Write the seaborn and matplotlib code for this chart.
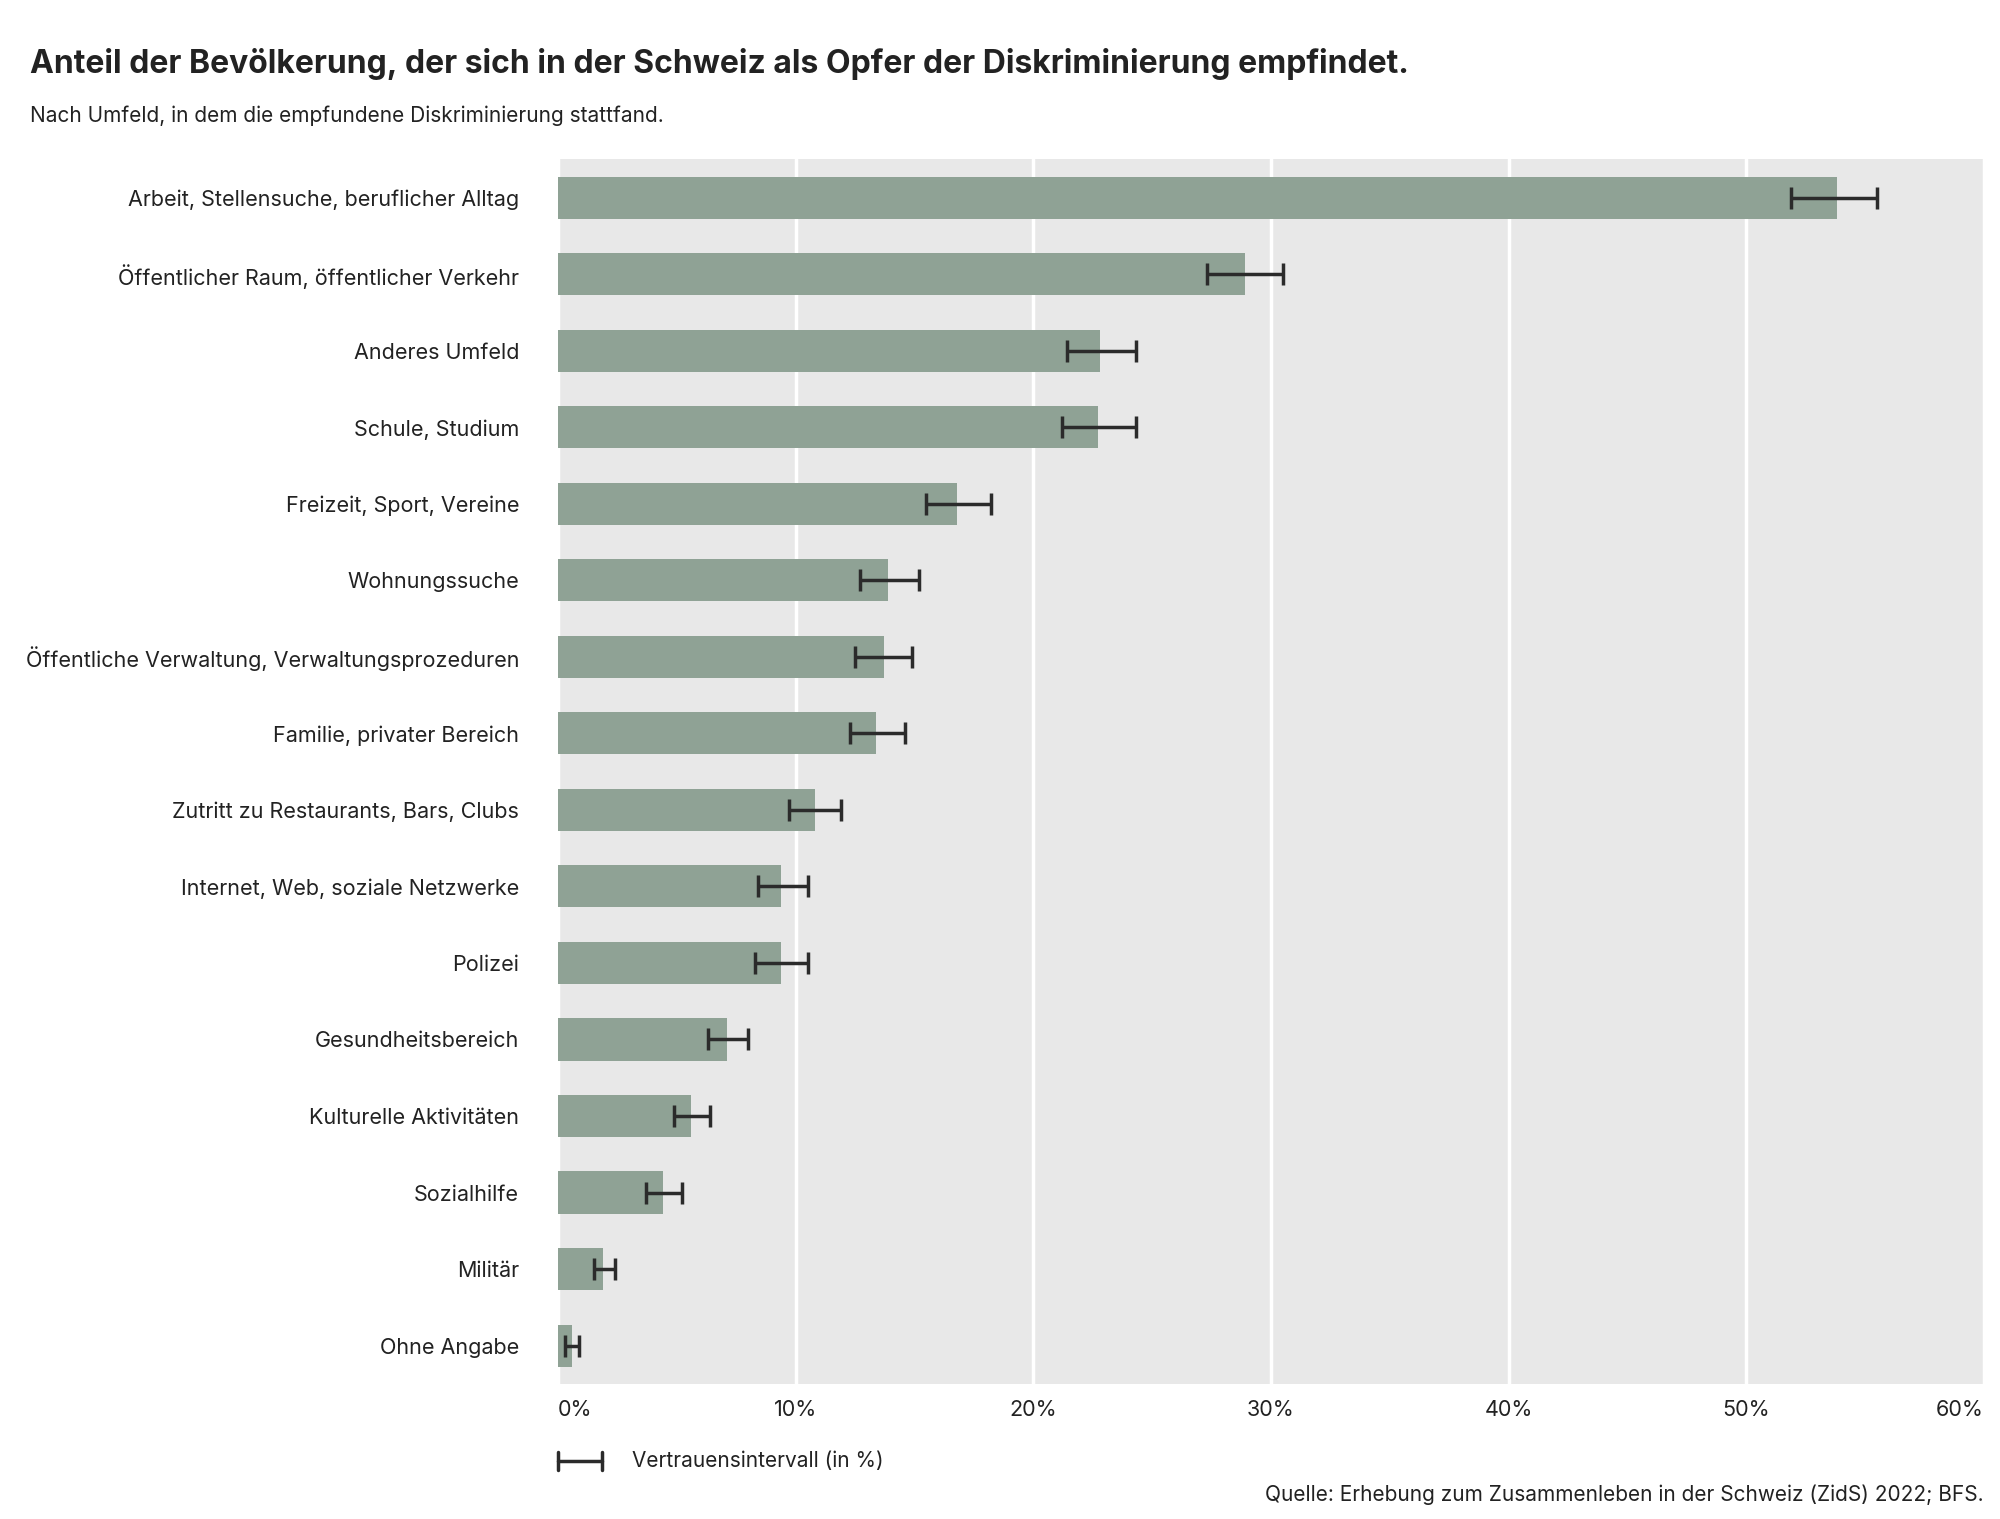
import matplotlib
matplotlib.use("Agg")
import matplotlib.pyplot as plt
import seaborn as sns
import pandas as pd
import numpy as np

categories = [
    "Arbeit, Stellensuche, beruflicher Alltag",
    "Öffentlicher Raum, öffentlicher Verkehr",
    "Anderes Umfeld",
    "Schule, Studium",
    "Freizeit, Sport, Vereine",
    "Wohnungssuche",
    "Öffentliche Verwaltung, Verwaltungsprozeduren",
    "Familie, privater Bereich",
    "Zutritt zu Restaurants, Bars, Clubs",
    "Internet, Web, soziale Netzwerke",
    "Polizei",
    "Gesundheitsbereich",
    "Kulturelle Aktivitäten",
    "Sozialhilfe",
    "Militär",
    "Ohne Angabe",
]
values = [53.8, 28.9, 22.8, 22.7, 16.8, 13.9, 13.7, 13.4, 10.8, 9.4, 9.4, 7.1, 5.6, 4.4, 1.9, 0.6]
ci_low = [51.9, 27.3, 21.4, 21.2, 15.5, 12.7, 12.5, 12.3, 9.7, 8.4, 8.3, 6.3, 4.9, 3.7, 1.5, 0.3]
ci_high = [55.5, 30.5, 24.3, 24.3, 18.2, 15.2, 14.9, 14.6, 11.9, 10.5, 10.5, 8.0, 6.4, 5.2, 2.4, 0.9]

df = pd.DataFrame({"Umfeld": categories, "Anteil": values, "lo": ci_low, "hi": ci_high})

sns.set_theme(style="white")
plt.rcParams["font.family"] = ["Inter", "DejaVu Sans"]

fig = plt.figure(figsize=(20, 15.19), dpi=100)
ax = fig.add_axes([0.279, 0.089, 0.713, 0.806])
ax.set_facecolor("#e8e8e8")

sns.barplot(data=df, x="Anteil", y="Umfeld", color="#8fa295", width=0.55,
            saturation=1, ax=ax, errorbar=None, linewidth=0, zorder=2)
y = np.arange(len(df))
ax.errorbar(df["Anteil"], y,
            xerr=[df["Anteil"] - df["lo"], df["hi"] - df["Anteil"]],
            fmt="none", ecolor="#2b2b2b", elinewidth=2.5, capsize=8, capthick=2.5, zorder=3)

ax.set_xlim(0, 60)
ax.set_ylim(len(df) - 0.5, -0.5)
ax.set_xticks(range(0, 61, 10))
ax.set_xticklabels([f"{v}%" for v in range(0, 61, 10)], fontsize=15.5, color="#222222")
ax.get_xticklabels()[-1].set_horizontalalignment("right")
ax.get_xticklabels()[0].set_horizontalalignment("left")
ax.tick_params(axis="y", labelsize=15.5, labelcolor="#222222", length=0, pad=28)
ax.tick_params(axis="x", length=0, pad=12)
ax.grid(axis="x", color="white", linewidth=2.5, zorder=1)
ax.set_axisbelow(True)
for s in ax.spines.values():
    s.set_visible(False)
ax.set_xlabel("")
ax.set_ylabel("")

fig.text(0.015, 0.958, "Anteil der Bevölkerung, der sich in der Schweiz als Opfer der Diskriminierung empfindet.",
         fontsize=23, fontweight="bold", color="#222222", va="center")
fig.text(0.015, 0.924, "Nach Umfeld, in dem die empfundene Diskriminierung stattfand.",
         fontsize=15, color="#222222", va="center")

# legend
fig.lines.append(plt.Line2D([0.279, 0.301], [0.038, 0.038], transform=fig.transFigure,
                            color="#2b2b2b", linewidth=2.5))
for xx in (0.279, 0.301):
    fig.lines.append(plt.Line2D([xx, xx], [0.032, 0.044], transform=fig.transFigure,
                                color="#2b2b2b", linewidth=2.5))
fig.text(0.316, 0.038, "Vertrauensintervall (in %)", fontsize=15, color="#222222", va="center")
fig.text(0.992, 0.016, "Quelle: Erhebung zum Zusammenleben in der Schweiz (ZidS) 2022; BFS.",
         fontsize=15, color="#222222", va="center", ha="right")

fig.savefig("out.png", dpi=100, facecolor="white")
